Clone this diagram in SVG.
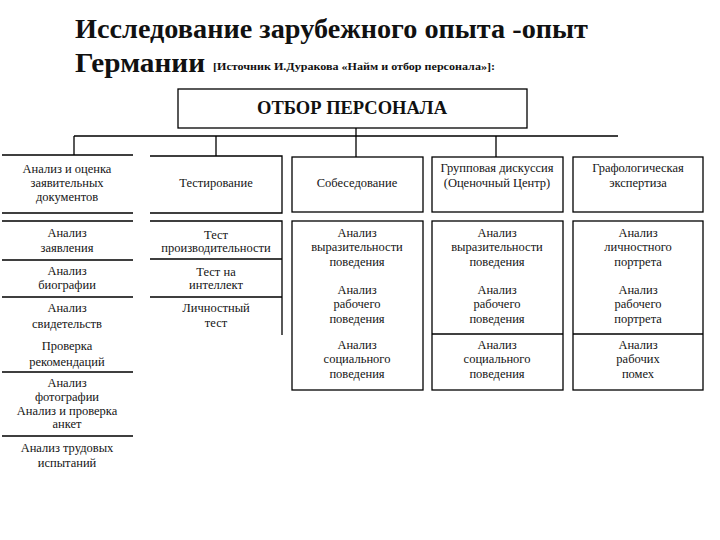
<svg xmlns="http://www.w3.org/2000/svg" width="720" height="540" viewBox="0 0 720 540">
<style>
.t{font-family:"Liberation Serif","Times New Roman",serif;font-size:12.5px;fill:#151515;text-anchor:middle}
.ln{stroke:#000;stroke-width:1.3;fill:none}
.bx{stroke:#000;stroke-width:1.3;fill:#fff}
</style>
<rect width="720" height="540" fill="#fff"/>
<g id="title" font-family="'Liberation Serif','Times New Roman',serif" font-weight="bold" fill="#111">
<text x="75" y="38" font-size="28" textLength="513" lengthAdjust="spacingAndGlyphs">Исследование зарубежного опыта -опыт</text>
<text x="75" y="72" font-size="28" textLength="130" lengthAdjust="spacingAndGlyphs">Германии</text>
<text x="213" y="70" font-size="11" textLength="282" lengthAdjust="spacingAndGlyphs">[Источник И.Дуракова «Найм и отбор персонала»]:</text>
</g>
<g id="connectors">
<path class="ln" d="M356 128V157M74 136H618M74 136V155M216 136V156M496 136V157"/>
</g>
<g id="root">
<rect class="bx" x="178" y="89" width="349" height="39"/>
<text x="257" y="114" font-family="'Liberation Serif','Times New Roman',serif" font-weight="bold" font-size="18" textLength="190" lengthAdjust="spacingAndGlyphs" fill="#111">ОТБОР ПЕРСОНАЛА</text>
</g>
<g id="col1">
<path class="ln" d="M2 155H133M2 213H133"/>
<text class="t" x="67" y="173">Анализ и оценка</text>
<text class="t" x="67" y="187">заявительных</text>
<text class="t" x="67" y="201">документов</text>
</g>
<g id="col1-list">
<path class="ln" d="M2 221H133M2 260H133M2 297H133M2 372H133M2 436H133"/>
<text class="t" x="67" y="237">Анализ</text>
<text class="t" x="67" y="252">заявления</text>
<text class="t" x="67" y="275">Анализ</text>
<text class="t" x="67" y="289">биографии</text>
<text class="t" x="67" y="312">Анализ</text>
<text class="t" x="67" y="328">свидетельств</text>
<text class="t" x="67" y="350">Проверка</text>
<text class="t" x="67" y="366">рекомендаций</text>
<text class="t" x="67" y="387">Анализ</text>
<text class="t" x="67" y="401">фотографии</text>
<text class="t" x="67" y="415">Анализ и проверка</text>
<text class="t" x="67" y="428">анкет</text>
<text class="t" x="67" y="452">Анализ трудовых</text>
<text class="t" x="67" y="467">испытаний</text>
</g>
<g id="col2">
<path class="ln" d="M150 156H282V213H150"/>
<text class="t" x="216" y="187">Тестирование</text>
</g>
<g id="col2-list">
<path class="ln" d="M150 221H282V335M150 259H282M150 297H282"/>
<text class="t" x="216" y="239">Тест</text>
<text class="t" x="216" y="252">производительности</text>
<text class="t" x="216" y="276">Тест на</text>
<text class="t" x="216" y="289">интеллект</text>
<text class="t" x="216" y="312">Личностный</text>
<text class="t" x="216" y="327">тест</text>
</g>
<g id="col3">
<rect class="bx" x="292" y="157" width="131" height="55"/>
<text class="t" x="357" y="187">Собеседование</text>
</g>
<g id="col3-list">
<rect class="bx" x="292" y="221" width="131" height="169"/>
<text class="t" x="357" y="237">Анализ</text>
<text class="t" x="357" y="251">выразительности</text>
<text class="t" x="357" y="266">поведения</text>
<text class="t" x="357" y="294">Анализ</text>
<text class="t" x="357" y="308">рабочего</text>
<text class="t" x="357" y="323">поведения</text>
<text class="t" x="357" y="349">Анализ</text>
<text class="t" x="357" y="363">социального</text>
<text class="t" x="357" y="378">поведения</text>
</g>
<g id="col4">
<rect class="bx" x="432" y="157" width="131" height="55"/>
<text class="t" x="497" y="172">Групповая дискуссия</text>
<text class="t" x="497" y="187">(Оценочный Центр)</text>
</g>
<g id="col4-list">
<rect class="bx" x="432" y="221" width="131" height="169"/>
<path class="ln" d="M432 334H563"/>
<text class="t" x="497" y="237">Анализ</text>
<text class="t" x="497" y="251">выразительности</text>
<text class="t" x="497" y="266">поведения</text>
<text class="t" x="497" y="294">Анализ</text>
<text class="t" x="497" y="308">рабочего</text>
<text class="t" x="497" y="323">поведения</text>
<text class="t" x="497" y="349">Анализ</text>
<text class="t" x="497" y="363">социального</text>
<text class="t" x="497" y="378">поведения</text>
</g>
<g id="col5">
<rect class="bx" x="573" y="157" width="130" height="55"/>
<text class="t" x="638" y="172">Графологическая</text>
<text class="t" x="638" y="187">экспертиза</text>
</g>
<g id="col5-list">
<rect class="bx" x="573" y="221" width="130" height="169"/>
<path class="ln" d="M573 334H703"/>
<text class="t" x="638" y="237">Анализ</text>
<text class="t" x="638" y="251">личностного</text>
<text class="t" x="638" y="266">портрета</text>
<text class="t" x="638" y="294">Анализ</text>
<text class="t" x="638" y="308">рабочего</text>
<text class="t" x="638" y="323">портрета</text>
<text class="t" x="638" y="349">Анализ</text>
<text class="t" x="638" y="363">рабочих</text>
<text class="t" x="638" y="378">помех</text>
</g>
</svg>
